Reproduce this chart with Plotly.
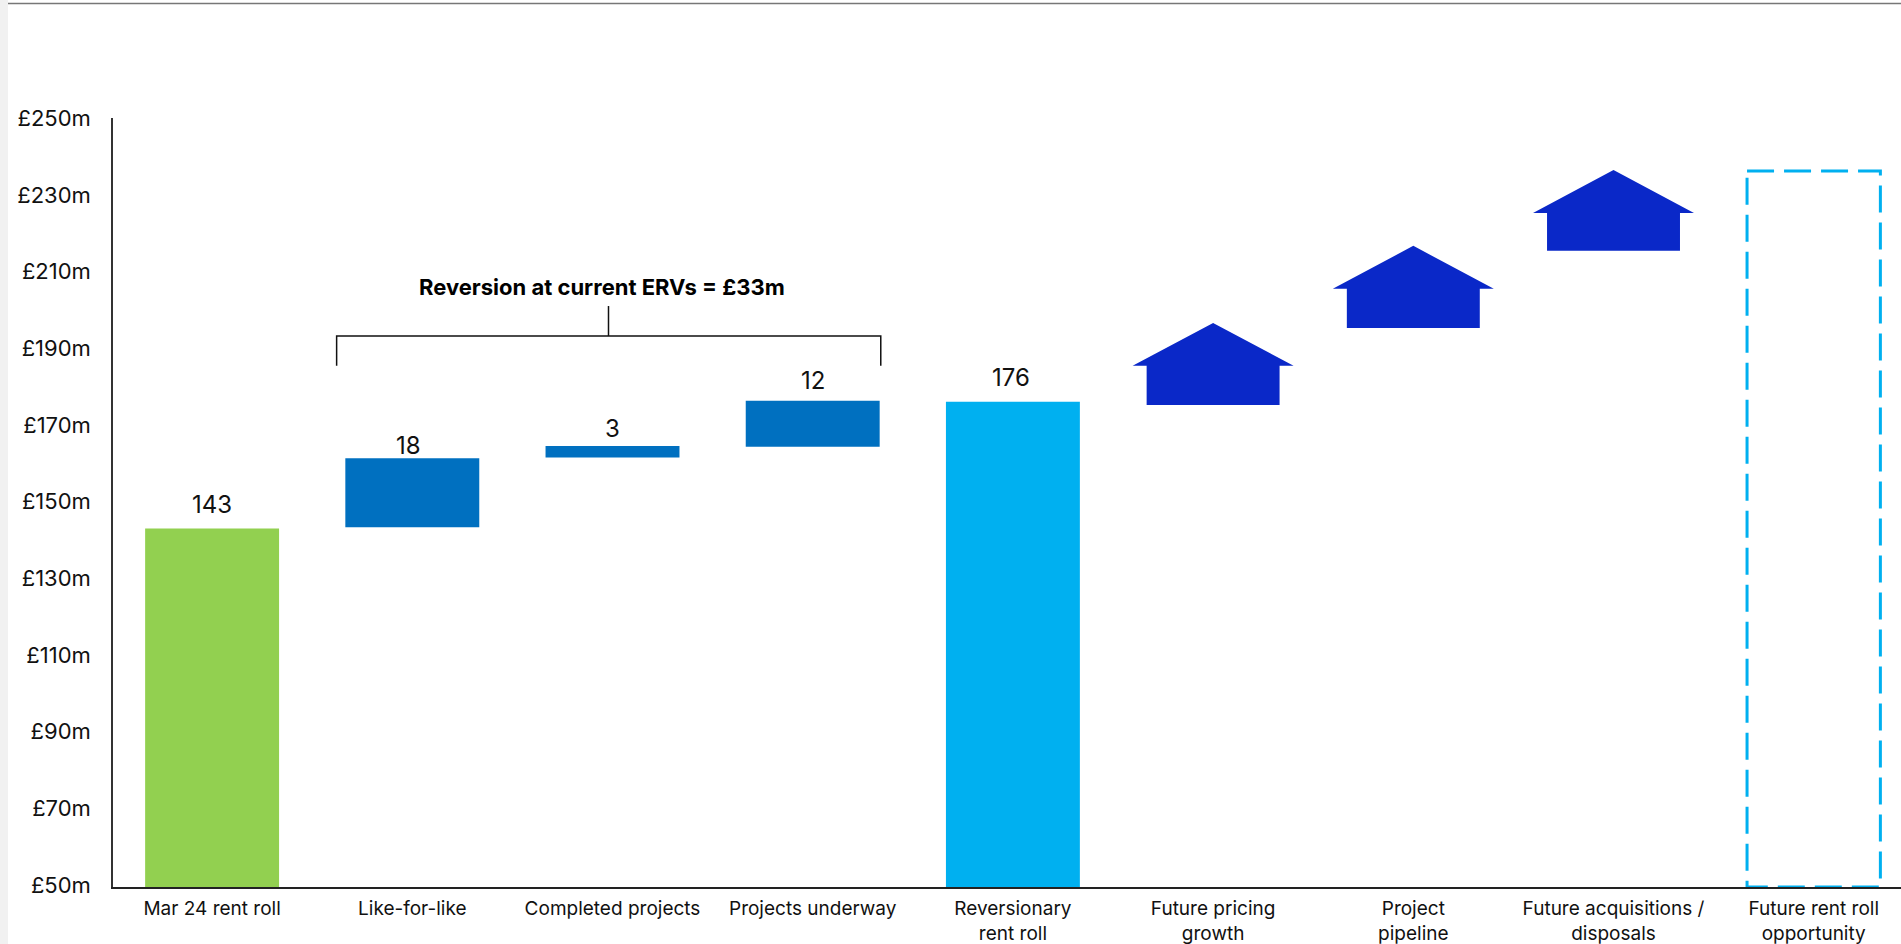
import plotly.graph_objects as go

FONT = "Inter"

# Bottom and top of the value axis
AXIS_FLOOR = 49.45
AXIS_CEILING = 250.05

# Rent roll bridge: bar value and the level each floating bar starts from
bar_positions = [0, 1, 2, 3, 4]
bar_values = [143, 18, 3, 12, 176]
bar_bases = [0, 143.3, 161.5, 164.3, 0]
bar_colors = ["#92D050", "#0070C0", "#0070C0", "#0070C0", "#00B0F0"]
value_label_y = [143, 161, 164, 176, 176]
value_label_x = [0, 0.98, 2, 3, 3.99]
value_label_shift = [24, 14, 19, 21, 24]

# Upside steps, drawn as house-shaped arrows
arrow_positions = [5, 6, 7]
arrow_base = [175.2, 195.3, 215.4]
arrow_eave = [185.4, 205.5, 225.3]
arrow_top = [196.6, 216.7, 236.5]

# Dashed outline of the future opportunity column
future_position = 8
future_top = 236.25

tick_values = list(range(50, 251, 20))
tick_labels = [f"£{v}m" for v in tick_values]
categories = [
    "Mar 24 rent roll", "Like-for-like", "Completed projects", "Projects underway",
    "Reversionary<br>rent roll", "Future pricing<br>growth", "Project<br>pipeline",
    "Future acquisitions /<br>disposals", "Future rent roll<br>opportunity",
]

BAR_WIDTH = 0.669
BODY_HALF = 0.332
ROOF_HALF = 0.402

fig = go.Figure()

# Solid and floating bars; full columns start at the axis floor
fig.add_trace(go.Bar(
    x=bar_positions,
    y=[v - AXIS_FLOOR if b == 0 else v for v, b in zip(bar_values, bar_bases)],
    base=[AXIS_FLOOR if b == 0 else b for b in bar_bases],
    width=BAR_WIDTH,
    marker=dict(color=bar_colors, line=dict(width=0)),
    hoverinfo="skip",
))

# House-shaped arrows
for pos, low, eave, top in zip(arrow_positions, arrow_base, arrow_eave, arrow_top):
    fig.add_trace(go.Scatter(
        x=[pos - BODY_HALF, pos - BODY_HALF, pos - ROOF_HALF, pos, pos + ROOF_HALF,
           pos + BODY_HALF, pos + BODY_HALF, pos - BODY_HALF],
        y=[low, eave, eave, top, eave, eave, low, low],
        mode="lines", fill="toself", fillcolor="#0A28C8",
        line=dict(width=0, color="#0A28C8"), hoverinfo="skip",
    ))

# Dashed future column, traced clockwise from its top-left corner
fig.add_trace(go.Scatter(
    x=[future_position - 0.333, future_position + 0.333, future_position + 0.333,
       future_position - 0.333, future_position - 0.333],
    y=[future_top, future_top, AXIS_FLOOR, AXIS_FLOOR, future_top],
    mode="lines", cliponaxis=False,
    line=dict(color="#00B0F0", width=3, dash="27px,10px"), hoverinfo="skip",
))

# Bracket spanning the three reversion bars
fig.add_trace(go.Scatter(
    x=[0.622, 0.622, 3.34, 3.34, None, 1.98, 1.98],
    y=[185.4, 193.2, 193.2, 185.4, None, 193.2, 201.0],
    mode="lines", line=dict(color="#111111", width=1.5), hoverinfo="skip",
))

fig.add_annotation(
    x=1.95, y=206.0, text="<b>Reversion at current ERVs = £33m</b>", showarrow=False,
    font=dict(family=FONT, size=22, color="#000000"),
)

for x, y, shift, value in zip(value_label_x, value_label_y, value_label_shift, bar_values):
    fig.add_annotation(
        x=x, y=y, yshift=shift, text=str(value), showarrow=False,
        font=dict(family=FONT, size=24, color="#111111"),
    )

fig.update_layout(
    width=1901, height=944, autosize=False,
    margin=dict(l=113, r=0, t=118, b=57, pad=0),
    paper_bgcolor="#FFFFFF", plot_bgcolor="#FFFFFF",
    showlegend=False,
    font=dict(family=FONT, color="#111111"),
    xaxis=dict(
        range=[-0.495, 8.436], tickmode="array", tickvals=list(range(9)), ticktext=categories,
        showgrid=False, zeroline=False, showline=True, linecolor="#222222", linewidth=2,
        ticks="outside", ticklen=3, tickcolor="rgba(0,0,0,0)", layer="below traces",
        tickfont=dict(family=FONT, size=19), tickangle=0, automargin=False,
    ),
    yaxis=dict(
        range=[AXIS_FLOOR, AXIS_CEILING], tickmode="array", tickvals=tick_values, ticktext=tick_labels,
        showgrid=False, zeroline=False, showline=True, linecolor="#333333", linewidth=1.5,
        ticks="outside", ticklen=16, tickcolor="rgba(0,0,0,0)",
        tickfont=dict(family=FONT, size=22), automargin=False,
    ),
    shapes=[
        # Grey margin strip down the left edge and the rule across the top
        dict(type="rect", xref="paper", yref="paper", x0=-113/1788, x1=-105/1788,
             y0=-57/769, y1=1 + 118/769, fillcolor="#F1F1F1", line=dict(width=0), layer="below"),
        dict(type="line", xref="paper", yref="paper", x0=-105/1788, x1=1,
             y0=1 + 114.5/769, y1=1 + 114.5/769, line=dict(color="#777777", width=1.5)),
    ],
)

fig.write_html("out.html", config=dict(displayModeBar=False))
